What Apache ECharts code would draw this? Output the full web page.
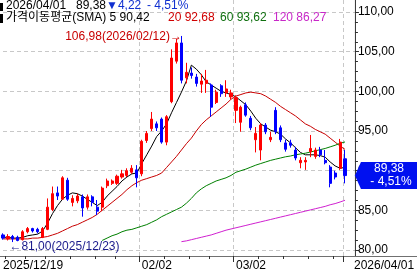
<!DOCTYPE html>
<html><head><meta charset="utf-8">
<script src="https://cdn.jsdelivr.net/npm/echarts@6/dist/echarts.min.js"></script>
<style>html,body{margin:0;padding:0;background:#fff;overflow:hidden}#c{width:417px;height:274px}</style>
</head><body><div id="c"></div>
<script>
const dates = ['2025/12/19','2025/12/22','2025/12/23','2025/12/24','2025/12/26','2025/12/29','2025/12/30','2025/12/31','2026/01/02','2026/01/05','2026/01/06','2026/01/07','2026/01/08','2026/01/09','2026/01/12','2026/01/13','2026/01/14','2026/01/15','2026/01/16','2026/01/20','2026/01/21','2026/01/22','2026/01/23','2026/01/26','2026/01/27','2026/01/28','2026/01/29','2026/01/30','2026/02/02','2026/02/03','2026/02/04','2026/02/05','2026/02/06','2026/02/09','2026/02/10','2026/02/11','2026/02/12','2026/02/13','2026/02/17','2026/02/18','2026/02/19','2026/02/20','2026/02/23','2026/02/24','2026/02/25','2026/02/26','2026/02/27','2026/03/02','2026/03/03','2026/03/04','2026/03/05','2026/03/06','2026/03/09','2026/03/10','2026/03/11','2026/03/12','2026/03/13','2026/03/16','2026/03/17','2026/03/18','2026/03/19','2026/03/20','2026/03/23','2026/03/24','2026/03/25','2026/03/26','2026/03/27','2026/03/30','2026/03/31','2026/04/01'];
const opens  = [81.9,81.4,81.7,81.6,81.3,82.3,82.7,82.6,81.6,82.6,85.1,87.2,86.4,88.8,86.0,86.2,86.7,85.4,86.7,85.4,85.4,88.1,88.4,88.4,89.2,89.4,89.8,90.1,89.6,93.8,95.3,95.9,96.5,93.6,98.7,103.8,106.1,101.7,102.3,101.8,100.9,101.0,100.8,98.6,100.7,99.8,99.3,97.6,96.1,98.3,96.6,93.9,92.6,95.75,93.9,97.6,95.4,93.5,93.5,92.6,91.0,91.1,92.4,91.8,92.6,91.3,90.45,89.7,90.3,91.5];
const closes = [81.5,81.7,81.4,81.2,82.3,82.7,82.4,82.3,82.7,85.4,87.1,86.8,89.1,86.4,86.5,86.8,85.3,86.7,86.0,84.9,87.8,88.7,88.7,89.3,89.6,90.0,90.3,89.1,93.7,94.7,96.5,95.4,93.6,96.8,104.2,106.1,101.4,102.4,102.0,101.0,101.3,101.4,98.0,99.9,99.7,100.3,99.8,99.2,98.0,97.0,95.4,94.7,95.75,94.9,94.2,94.9,93.9,92.7,93.2,91.6,91.3,91.3,92.8,92.6,92.0,91.0,88.4,89.2,93.60,89.38];
const lows   = [81.3,81.2,81.00,81.1,81.2,82.1,82.2,82.1,81.5,82.5,84.9,86.3,86.3,86.2,85.5,85.9,84.2,85.1,85.5,84.4,84.9,87.8,88.2,88.2,89.0,89.2,89.6,87.9,89.3,93.5,95.0,95.0,93.4,93.2,98.5,103.5,101.0,101.0,101.6,100.6,99.8,99.8,96.8,98.4,99.3,99.3,99.0,96.0,94.9,96.8,95.1,92.3,91.3,94.6,93.6,94.6,93.6,92.4,92.9,91.3,90.3,90.1,91.7,91.5,91.7,90.8,87.9,88.9,90.1,88.4];
const highs  = [82.1,82.0,81.9,81.8,82.5,82.9,82.8,82.8,82.9,86.5,88.0,88.0,89.3,89.1,86.9,87.1,87.0,87.0,86.9,86.3,88.0,89.0,88.9,89.5,90.1,90.3,90.7,90.7,93.9,95.0,97.4,96.2,96.7,97.0,105.3,106.6,106.98,103.6,103.0,102.2,102.2,102.7,101.0,100.2,100.9,101.4,100.2,99.5,98.2,98.6,96.9,95.5,96.0,96.0,94.9,98.0,95.7,93.9,93.9,93.0,91.7,91.7,94.5,92.9,93.0,92.6,90.7,90.0,94.0,92.6];
const ma5    = [81.6,81.6,81.5,81.5,81.6,81.8,81.9,82.0,82.4,83.4,84.6,85.6,86.4,86.9,87.2,87.1,86.8,86.4,86.0,85.6,86.0,86.8,87.4,88.0,88.7,89.2,89.6,89.7,90.9,92.0,93.1,94.3,95.0,95.9,97.3,98.6,99.9,101.3,103.3,102.8,102.1,101.2,100.8,100.4,100.0,99.8,99.6,99.3,98.8,98.3,97.5,96.6,95.9,95.5,95.1,94.9,94.6,94.0,93.5,92.9,92.3,92.0,92.0,92.0,91.9,91.7,91.1,90.6,90.3,90.42];
const ma20   = [81.4,81.4,81.4,81.4,81.4,81.4,81.5,81.5,81.6,81.7,81.9,82.1,82.4,82.7,83.0,83.2,83.5,83.8,84.1,84.5,85.0,85.5,86.0,86.5,87.0,87.6,88.1,88.5,88.8,89.0,89.2,89.4,89.7,90.4,91.1,91.8,92.6,93.4,94.1,95.0,95.8,96.4,96.9,97.4,97.9,98.4,99.0,99.4,99.6,99.8,99.9,99.8,99.7,99.4,99.0,98.6,98.1,97.7,97.3,96.9,96.4,95.9,95.6,95.2,94.9,94.6,94.1,93.6,93.1,92.68];
const ma60   = [null,null,null,null,null,null,null,null,null,null,null,null,null,null,null,null,null,null,null,null,81.2,81.5,81.8,82.0,82.3,82.5,82.6,82.8,83.0,83.2,83.5,83.8,84.2,84.5,84.8,85.1,85.4,85.9,86.5,87.2,87.7,88.1,88.4,88.7,88.9,89.1,89.4,89.8,90.0,90.2,90.45,90.7,90.9,91.1,91.3,91.45,91.6,91.75,91.85,92.0,92.1,92.2,92.35,92.5,92.65,92.8,93.0,93.2,93.45,93.62];
const ma120  = [null,null,null,null,null,null,null,null,null,null,null,null,null,null,null,null,null,null,null,null,null,null,null,null,null,null,null,null,null,null,null,null,null,null,null,null,81.05,81.15,81.3,81.45,81.6,81.75,81.9,82.1,82.3,82.5,82.65,82.8,82.95,83.1,83.25,83.4,83.55,83.7,83.85,84.0,84.15,84.3,84.45,84.6,84.75,84.9,85.05,85.2,85.35,85.5,85.7,85.85,86.05,86.27];
const maPeriods = [5, 20, 60, 120];
const maColors = ['#000000', '#c80000', '#008000', '#d020d0'];
const maTextColors = ['#000000', '#d00000', '#107010', '#c828c8'];
const xTickDates = ['2025/12/19', '2026/02/02', '2026/03/02', '2026/04/01'];
const xTickTexts = ['2025/12/19', '02/02', '03/02', '2026/04/01'];
const weekTickDates = ['2025/12/22','2025/12/29','2026/01/05','2026/01/12','2026/01/20','2026/01/26','2026/02/09','2026/02/17','2026/02/23','2026/03/09','2026/03/16','2026/03/23','2026/03/30'];
const yTicks = [80, 85, 90, 95, 100, 105, 110];

const FONT = '"Liberation Sans","DejaVu Sans","Noto Sans CJK KR",sans-serif';
const fmt = v => v.toFixed(2).replace('.', ',');
const cats = dates.concat([' ', '  ']);
const last = closes.length - 1;
const chg = closes[last] - closes[last - 1];
const pct = chg / closes[last - 1] * 100;
let hiIdx = 0, loIdx = 0;
highs.forEach((v, i) => { if (v > highs[hiIdx]) hiIdx = i; });
lows.forEach((v, i) => { if (v < lows[loIdx]) loIdx = i; });
const ymd = d => d;

const chart = echarts.init(document.getElementById('c'), null, {renderer: 'canvas'});
const maArrays = [ma5, ma20, ma60, ma120];
const option = {
  animation: false,
  backgroundColor: '#ffffff',
  textStyle: {fontFamily: FONT},
  grid: {left: 0, right: 58.4, top: 12, bottom: 24, containLabel: false},
  xAxis: [{
    type: 'category', data: cats, boundaryGap: false, position: 'bottom', offset: 6,
    axisLine: {show: false},
    axisTick: {show: false},
    splitLine: {show: false},
    axisLabel: {
      show: true, margin: 4, align: 'left', color: '#000', fontSize: 12, fontFamily: FONT,
      interval: (idx, val) => xTickDates.indexOf(val) >= 0,
      formatter: (val) => {
        const k = xTickDates.indexOf(val);
        if (k < 0) return '';
        if (k === xTickDates.length - 1) return '{e|' + xTickTexts[k] + '}';
        return xTickTexts[k];
      },
      rich: {e: {padding: [0, 0, 0, 9], fontSize: 12, fontFamily: FONT, color: '#000'}}
    }
  }],
  yAxis: [{
    type: 'value', position: 'right', min: 80, max: 110, interval: 5, scale: true,
    axisLine: {show: false},
    axisTick: {show: true, length: 4, lineStyle: {color: '#303030'}},
    minorTick: {show: true, splitNumber: 4, length: 3, lineStyle: {color: '#303030'}},
    splitLine: {show: true, lineStyle: {color: '#c8c8c8', type: [4, 3], width: 1}},
    axisLabel: {margin: 3, color: '#000', fontSize: 12, fontFamily: FONT, formatter: v => fmt(v)}
  }],
  series: [
    ...maArrays.map((arr, k) => ({
      type: 'line', name: 'MA' + maPeriods[k], data: arr, symbol: 'none', showSymbol: false,
      lineStyle: {color: maColors[k], width: 1}, z: 2, silent: true
    })),
    {
      type: 'candlestick', name: 'price', z: 3,
      data: dates.map((d, i) => [opens[i], closes[i], lows[i], highs[i]]),
      barWidth: 2.6,
      itemStyle: {color: '#ff0000', color0: '#0000ff', borderColor: '#ff0000', borderColor0: '#0000ff', borderWidth: 1},
      markPoint: {
        symbol: 'circle', symbolSize: 1, silent: true,
        itemStyle: {color: 'rgba(0,0,0,0)'},
        data: [
          {coord: [dates[hiIdx], highs[hiIdx]], label: {show: true, position: 'left', distance: -1, offset: [0, 1], color: '#c80000', fontSize: 12, fontFamily: FONT, formatter: fmt(highs[hiIdx]) + '(' + dates[hiIdx] + ')→'}},
          {coord: [dates[loIdx], lows[loIdx]], label: {show: true, position: 'right', distance: 0, offset: [-4, 5], color: '#1a1a8c', fontSize: 12, fontFamily: FONT, formatter: '←' + fmt(lows[loIdx]) + '(' + dates[loIdx] + ')'}}
        ]
      }
    }
  ]
};
chart.setOption(option);

const px = (i, v) => chart.convertToPixel({gridIndex: 0}, [i, v]);
const x0 = px(0, 80)[0], x1 = px(1, 80)[0];
const step = x1 - x0;
const yBottom = px(0, 80)[1];
const axisY = yBottom + 6;
const axisX = px(cats.length - 1, 80)[0];
const g = [];
// axis lines
g.push({type: 'line', shape: {x1: 0, y1: axisY + 0.5, x2: 417, y2: axisY + 0.5}, style: {stroke: '#707070', lineWidth: 1}, z: 10});
g.push({type: 'line', shape: {x1: axisX + 0.5, y1: 0, x2: axisX + 0.5, y2: axisY}, style: {stroke: '#303030', lineWidth: 1}, z: 10});
// vertical dashed gridlines + major ticks
xTickDates.forEach((d, k) => {
  const i = dates.indexOf(d);
  const x = Math.round(px(i, 80)[0] - step / 2) + 0.5;
  if (k > 0) {
    g.push({type: 'line', shape: {x1: x, y1: 0, x2: x, y2: axisY}, style: {stroke: '#c8c8c8', lineWidth: 1, lineDash: [4, 3]}, z: 1});
    g.push({type: 'line', shape: {x1: x, y1: axisY, x2: x, y2: axisY + 6}, style: {stroke: '#303030', lineWidth: 1}, z: 10});
  }
});
weekTickDates.forEach(d => {
  const i = dates.indexOf(d);
  const x = Math.round(px(i, 80)[0] - step / 2) + 0.5;
  g.push({type: 'line', shape: {x1: x, y1: axisY, x2: x, y2: axisY + 3}, style: {stroke: '#303030', lineWidth: 1}, z: 10});
});
// price flag
const fy = px(last, closes[last])[1];
g.push({type: 'polygon', shape: {points: [[axisX, fy], [axisX + 6, fy - 13.5], [417, fy - 13.5], [417, fy + 13.5], [axisX + 6, fy + 13.5]]}, style: {fill: '#0010f0'}, z: 11});
g.push({type: 'text', x: 389, y: fy - 6.5, style: {text: fmt(closes[last]), fill: '#fff', fontSize: 12, fontFamily: FONT, align: 'center', verticalAlign: 'middle'}, z: 12});
g.push({type: 'text', x: 391, y: fy + 6.5, style: {text: (chg < 0 ? '- ' : '+ ') + fmt(Math.abs(pct)) + '%', fill: '#fff', fontSize: 12, fontFamily: FONT, align: 'center', verticalAlign: 'middle'}, z: 12});
// title markers
g.push({type: 'rect', shape: {x: 0, y: 3, width: 3, height: 8}, style: {fill: '#000'}, z: 12});
g.push({type: 'rect', shape: {x: 0, y: 14, width: 3, height: 9}, style: {fill: '#000'}, z: 12});
const T = (x, y, text, fill) => g.push({type: 'text', x, y, style: {text, fill, fontSize: 12, fontFamily: FONT, verticalAlign: 'top'}, z: 12});
T(6, 0, dates[last], '#000');
T(76, 0, fmt(closes[last]), '#000');
T(106, 0, (chg < 0 ? '▼' : '▲') + fmt(Math.abs(chg)), '#1030d0');
T(147, 0, (chg < 0 ? '- ' : '+ ') + fmt(Math.abs(pct)) + '%', '#1030d0');
T(6, 12, '가격이동평균(SMA) ' + maPeriods[0] + ' ' + fmt(ma5[last]), '#000');
T(168, 12, maPeriods[1] + ' ' + fmt(ma20[last]), maTextColors[1]);
T(220, 12, maPeriods[2] + ' ' + fmt(ma60[last]), maTextColors[2]);
T(273, 12, maPeriods[3] + ' ' + fmt(ma120[last]), maTextColors[3]);
chart.setOption({graphic: g});
</script></body></html>
